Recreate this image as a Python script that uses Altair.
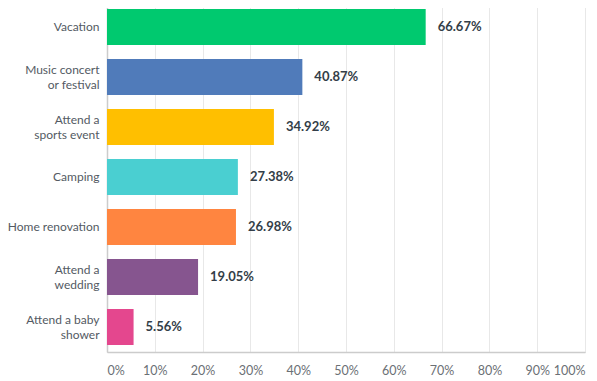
import altair as alt
import pandas as pd

categories = ["Vacation", "Music concert|or festival", "Attend a|sports event", "Camping",
              "Home renovation", "Attend a|wedding", "Attend a baby|shower"]
values = [66.67, 40.87, 34.92, 27.38, 26.98, 19.05, 5.56]
colors = ["#00C96F", "#507BBA", "#FFBF00", "#4ACFD1", "#FF8540", "#86558F", "#E4478E"]
x_ticks = [0, 10, 20, 30, 40, 50, 60, 70, 80, 90, 100]

df = pd.DataFrame({"cat": categories, "val": values, "col": colors})
df["lbl"] = df["val"].map(lambda v: f"{v:.2f}%")

FONT = "Lato"

y_enc = alt.Y("cat:N", sort=categories, title=None,
              scale=alt.Scale(paddingInner=0.28, paddingOuter=0.14),
              axis=alt.Axis(labelExpr="split(datum.label, '|')", labelFont=FONT,
                            labelFontSize=12, labelColor="#535A63", labelPadding=8,
                            labelLineHeight=14.5, ticks=False, domainColor="#CCCCCC",
                            domainWidth=1.5, grid=False, labelLimit=120,
                            labelOffset={"condition": {"test": "indexof(datum.value, '|') >= 0",
                                                       "value": -7}, "value": 0}))

x_enc = alt.X("val:Q", title=None,
              scale=alt.Scale(domain=[0, 100], nice=False),
              axis=alt.Axis(values=x_ticks, labelExpr="datum.value + '%'", labelFont=FONT,
                            labelFontSize=12.5, labelColor="#6B7075", labelPadding=12,
                            labelFlush=True, ticks=False, domainColor="#CCCCCC",
                            domainWidth=1.5, gridColor="#E8E8E8", gridWidth=1))

bars = alt.Chart(df).mark_bar().encode(
    y=y_enc, x=x_enc,
    color=alt.Color("col:N", scale=None),
)

text = alt.Chart(df).mark_text(align="left", baseline="middle", dx=12,
                               font=FONT, fontSize=13, fontWeight="bold",
                               color="#333E48").encode(
    y=alt.Y("cat:N", sort=categories),
    x=alt.X("val:Q"),
    text="lbl:N",
)

chart = (bars + text).properties(
    width=478, height=350,
    padding={"left": 99, "top": -6, "right": 4, "bottom": 32},
    autosize=alt.AutoSizeParams(type="none"),
).configure_view(stroke=None).configure(background="white")

chart.save("out.html", embed_options={"renderer": "svg", "actions": False})
